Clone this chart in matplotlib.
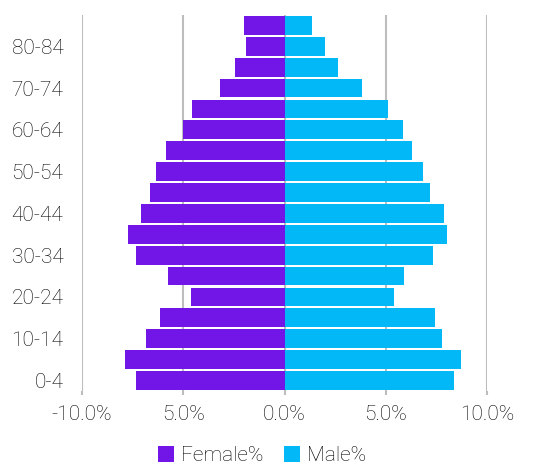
import numpy as np
import matplotlib.pyplot as plt
from matplotlib.ticker import FuncFormatter

plt.rcParams['font.family'] = ['Roboto', 'DejaVu Sans']

age_groups = ['0-4', '5-9', '10-14', '15-19', '20-24', '25-29', '30-34', '35-39',
              '40-44', '45-49', '50-54', '55-59', '60-64', '65-69', '70-74',
              '75-79', '80-84', '85+']
female_pct = [7.33, 7.87, 6.83, 6.14, 4.60, 5.74, 7.33, 7.72,
              7.08, 6.63, 6.34, 5.84, 5.00, 4.55, 3.20, 2.43, 1.93, 1.98]
male_pct = [8.37, 8.71, 7.77, 7.43, 5.40, 5.89, 7.33, 8.02,
            7.87, 7.18, 6.83, 6.29, 5.84, 5.10, 3.81, 2.62, 1.98, 1.34]

purple = '#7216E8'
blue = '#02B8F6'
text_col = '#000000'
grid_col = '#BDBDBD'

fig = plt.figure(figsize=(5.51, 4.66), dpi=100)
ax = fig.add_axes([0.149, 0.161, 0.735, 0.807])

y = np.arange(len(age_groups))
ax.barh(y, -np.array(female_pct), height=0.9, color=purple, label='Female%', zorder=2)
ax.barh(y, male_pct, height=0.9, color=blue, label='Male%', zorder=2)

ax.set_xlim(-10, 10)
ax.set_ylim(-0.5, len(age_groups) - 0.5)
ax.set_xticks([-10, -5, 0, 5, 10])


def fmt(v, pos):
    # the original only keeps the minus sign on the outer tick
    if v == -10:
        return '-10.0%'
    return f'{abs(v):.1f}%'


ax.xaxis.set_major_formatter(FuncFormatter(fmt))
ax.set_yticks(y[::2])
ax.set_yticklabels(age_groups[::2])
ax.grid(axis='x', color=grid_col, linewidth=1.5, zorder=1)
for s in ax.spines.values():
    s.set_visible(False)
ax.tick_params(axis='y', length=0, pad=13.5, labelsize=15, labelcolor=text_col)
ax.tick_params(axis='x', length=3, width=1.5, color=grid_col, pad=7,
               labelsize=15, labelcolor=text_col)
for lbl in ax.get_xticklabels() + ax.get_yticklabels():
    lbl.set_fontweight('light')

leg = fig.legend(loc='lower center', bbox_to_anchor=(0.475, -0.038), ncol=2, frameon=False,
                 fontsize=15, handlelength=0.8, handleheight=0.8, handletextpad=0.3,
                 columnspacing=1.0)
for t in leg.get_texts():
    t.set_color(text_col)
    t.set_fontweight('light')

fig.savefig('out.png', dpi=100)
